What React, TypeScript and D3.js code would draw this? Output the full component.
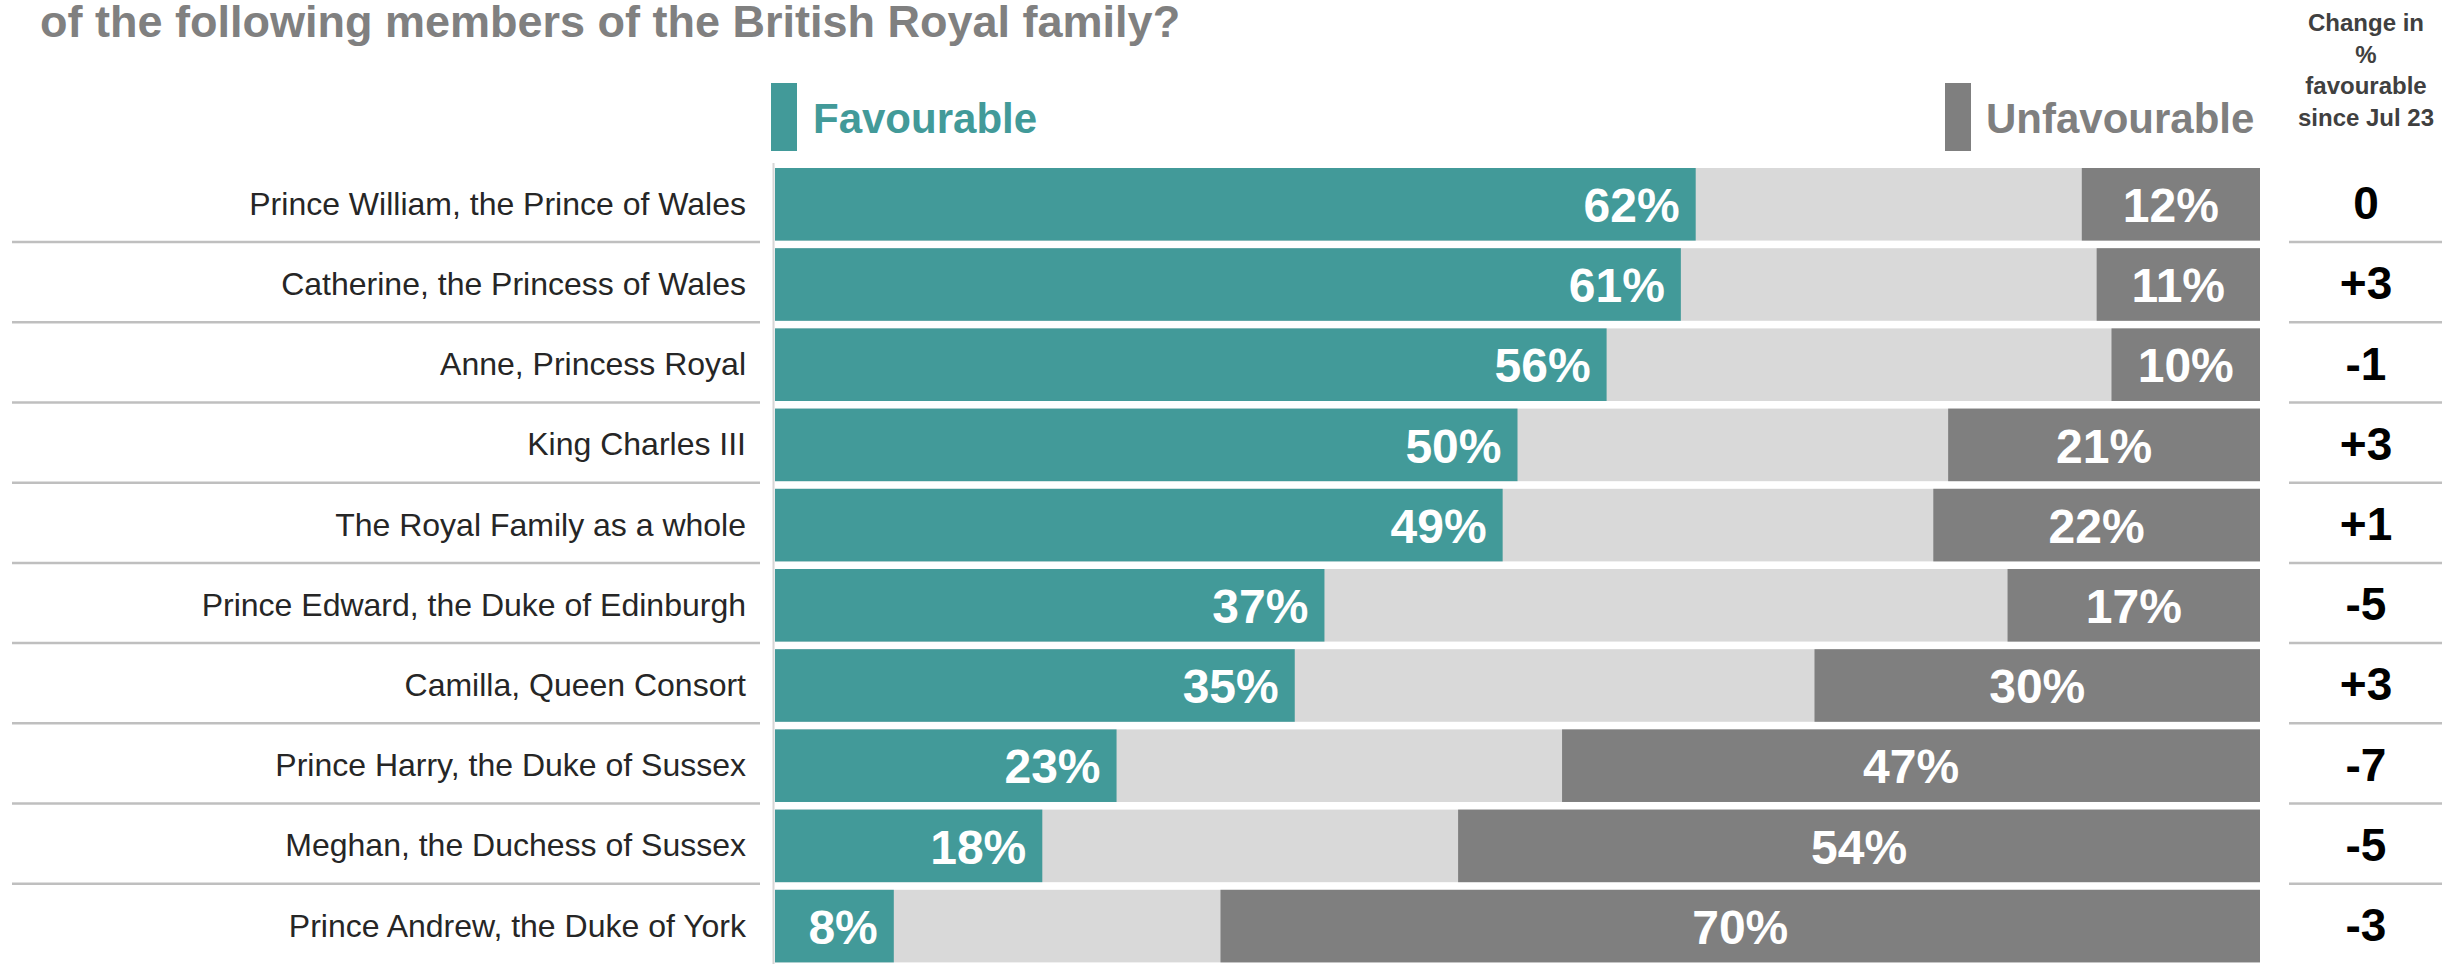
import React from "react";
import * as d3 from "d3";

const names = [
  "Prince William, the Prince of Wales",
  "Catherine, the Princess of Wales",
  "Anne, Princess Royal",
  "King Charles III",
  "The Royal Family as a whole",
  "Prince Edward, the Duke of Edinburgh",
  "Camilla, Queen Consort",
  "Prince Harry, the Duke of Sussex",
  "Meghan, the Duchess of Sussex",
  "Prince Andrew, the Duke of York",
];
const favourable = [62, 61, 56, 50, 49, 37, 35, 23, 18, 8];
const unfavourable = [12, 11, 10, 21, 22, 17, 30, 47, 54, 70];
const change = ["0", "+3", "-1", "+3", "+1", "-5", "+3", "-7", "-5", "-3"];
const titleText = "of the following members of the British Royal family?";
const headerLines = ["Change in", "%", "favourable", "since Jul 23"];

const TEAL = "#429a99";
const LIGHT = "#d9d9d9";
const DARK = "#7f7f7f";
const FONT = "'Liberation Sans', Arial, Helvetica, sans-serif";

export default function App() {
  const W = 2461;
  const H = 964;
  const x = d3.scaleLinear().domain([0, 100]).range([775, 2260]);
  const step = 80.2;
  const pin = 0.095;
  const y = d3
    .scaleBand<string>()
    .domain(names)
    .range([168, 168 + step * (names.length - pin)])
    .paddingInner(pin)
    .paddingOuter(0);
  const bw = y.bandwidth();
  const changeX = 2366;

  return (
    <svg
      width={W}
      height={H}
      style={{ position: "absolute", left: 0, top: 0, background: "#fff" }}
      fontFamily={FONT}
    >
      <text x={40} y={37} fontSize={45} fontWeight="bold" fill="#808080">
        {titleText}
      </text>

      {/* legend */}
      <rect x={771} y={83} width={26} height={68} fill={TEAL} />
      <text x={813} y={133} fontSize={42} fontWeight="bold" fill={TEAL}>
        Favourable
      </text>
      <rect x={1945} y={83} width={26} height={68} fill={DARK} />
      <text x={1986} y={133} fontSize={42} fontWeight="bold" fill={DARK}>
        Unfavourable
      </text>

      {/* change header */}
      {headerLines.map((t, i) => (
        <text
          key={t}
          x={changeX}
          y={31 + i * 31.7}
          fontSize={24}
          fontWeight="bold"
          fill="#404040"
          textAnchor="middle"
        >
          {t}
        </text>
      ))}

      {/* axis line */}
      <line x1={773.5} x2={773.5} y1={163} y2={H} stroke="#d6d6d6" strokeWidth={2} />

      {names.map((n, i) => {
        const y0 = y(n) as number;
        const cy = y0 + bw / 2;
        const fv = favourable[i];
        const uf = unfavourable[i];
        return (
          <g key={n}>
            <rect x={x(0)} y={y0} width={x(100) - x(0)} height={bw} fill={LIGHT} />
            <rect x={x(0)} y={y0} width={x(fv) - x(0)} height={bw} fill={TEAL} />
            <rect x={x(100 - uf)} y={y0} width={x(100) - x(100 - uf)} height={bw} fill={DARK} />
            <text
              x={x(fv) - 16}
              y={cy + 48 * 0.37}
              fontSize={48}
              fontWeight="bold"
              fill="#fff"
              textAnchor="end"
            >
              {fv}%
            </text>
            <text
              x={(x(100 - uf) + x(100)) / 2}
              y={cy + 48 * 0.37}
              fontSize={48}
              fontWeight="bold"
              fill="#fff"
              textAnchor="middle"
            >
              {uf}%
            </text>
            <text
              x={746}
              y={cy + 10.5}
              fontSize={32}
              fill="#262626"
              textAnchor="end"
            >
              {n}
            </text>
            <text
              x={changeX}
              y={cy + 15}
              fontSize={46}
              fontWeight="bold"
              fill="#000"
              textAnchor="middle"
            >
              {change[i]}
            </text>
            {i < names.length - 1 && (
              <g>
                <line x1={12} x2={760} y1={y0 + bw + 1.5} y2={y0 + bw + 1.5} stroke="#bfbfbf" strokeWidth={2.5} />
                <line x1={2289} x2={2442} y1={y0 + bw + 1.5} y2={y0 + bw + 1.5} stroke="#bfbfbf" strokeWidth={2.5} />
              </g>
            )}
          </g>
        );
      })}
    </svg>
  );
}
